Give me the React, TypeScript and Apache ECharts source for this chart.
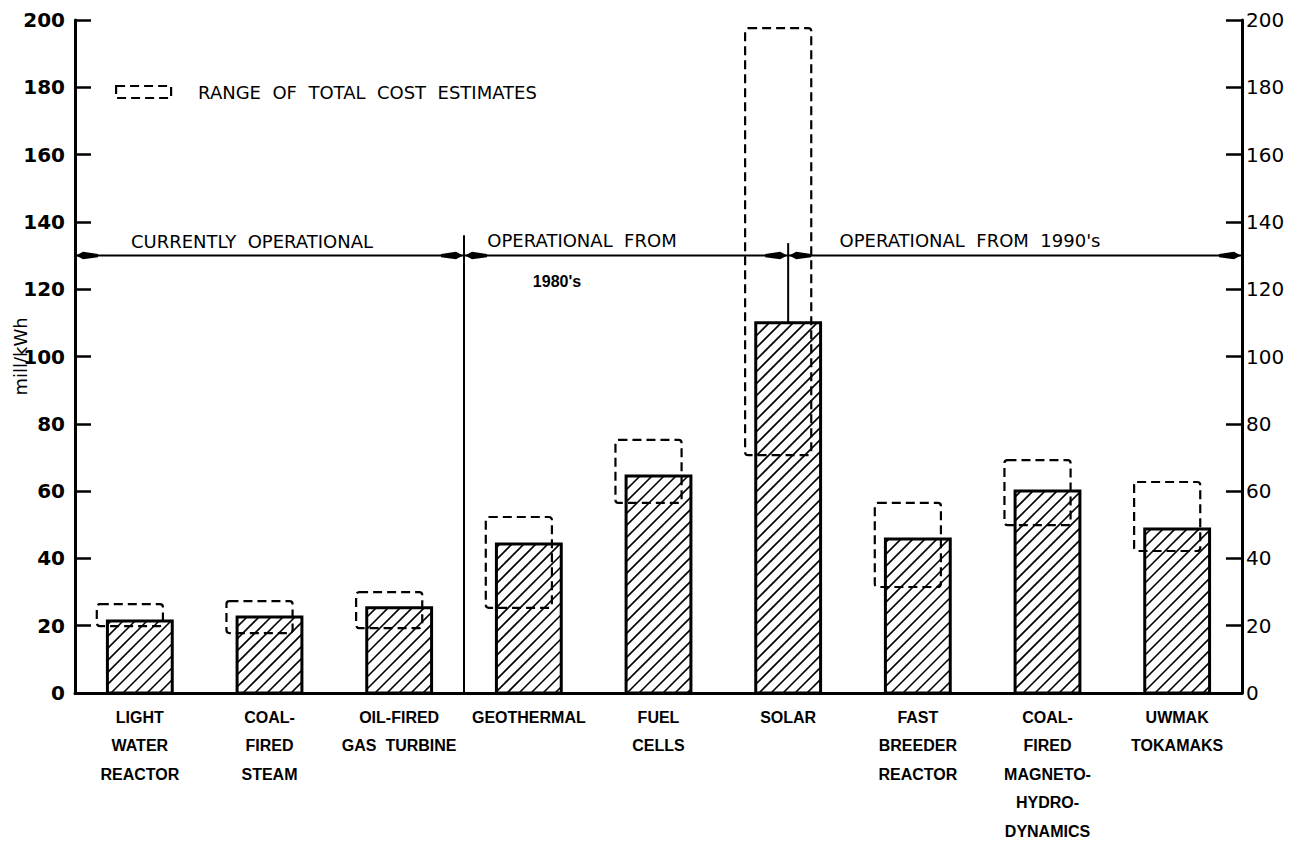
import React, { useEffect, useRef } from "react";
import * as echarts from "echarts";

// ---- data ----
const categories = [
  "LIGHT\nWATER\nREACTOR",
  "COAL-\nFIRED\nSTEAM",
  "OIL-FIRED\nGAS  TURBINE",
  "GEOTHERMAL",
  "FUEL\nCELLS",
  "SOLAR",
  "FAST\nBREEDER\nREACTOR",
  "COAL-\nFIRED\nMAGNETO-\nHYDRO-\nDYNAMICS",
  "UWMAK\nTOKAMAKS",
];
const costValues = [21.4, 22.6, 25.3, 44.3, 64.5, 110.0, 45.8, 60.0, 48.7];
const rangeLow = [19.9, 17.8, 19.3, 25.3, 56.5, 70.7, 31.5, 49.9, 42.2];
const rangeHigh = [26.4, 27.3, 30.0, 52.3, 75.2, 197.6, 56.5, 69.2, 62.7];

const yMin = 0;
const yMax = 200;
const yInterval = 20;

const rangeLegendName = "RANGE  OF  TOTAL  COST  ESTIMATES";
const periodLabels = ["CURRENTLY  OPERATIONAL", "OPERATIONAL  FROM", "1980's", "OPERATIONAL  FROM  1990's"];
const periodLevel = 130; // mill/kWh level of the period arrows
const currentlyOperationalCount = 3; // first three technologies
const solarIndex = 5;
const separatorTop = 136;
const solarLineTop = 133.7;

// ---- renderers ----
function renderBar(params: any, api: any) {
  const idx = api.value(0);
  const v = api.value(1);
  const top = api.coord([idx, v]);
  const base = api.coord([idx, 0]);
  const band = api.size([1, 0])[0];
  const w = band * 0.5;
  const x0 = top[0] - w / 2;
  const x1 = top[0] + w / 2;
  const y0 = top[1];
  const y1 = base[1];
  const children: any[] = [
    { type: "rect", shape: { x: x0, y: y0, width: w, height: y1 - y0 }, style: { fill: "#fff" } },
  ];
  const step = 12;
  for (let c = Math.ceil((x0 + y0) / step) * step; c < x1 + y1; c += step) {
    const xa = Math.max(x0, c - y1);
    const xb = Math.min(x1, c - y0);
    if (xb > xa + 0.5) {
      children.push({
        type: "line",
        shape: { x1: xa, y1: c - xa, x2: xb, y2: c - xb },
        style: { stroke: "#000", lineWidth: 1.6 },
      });
    }
  }
  children.push({
    type: "rect",
    shape: { x: x0, y: y0, width: w, height: y1 - y0 },
    style: { fill: "none", stroke: "#000", lineWidth: 3 },
  });
  return { type: "group", children };
}

function renderRange(params: any, api: any) {
  const idx = api.value(0);
  const lo = api.coord([idx, api.value(1)]);
  const hi = api.coord([idx, api.value(2)]);
  const band = api.size([1, 0])[0];
  const w = band * 0.51;
  const cx = hi[0] - band * 0.077;
  return {
    type: "rect",
    z2: 10,
    shape: { x: cx - w / 2, y: hi[1], width: w, height: lo[1] - hi[1], r: 3 },
    style: { fill: "none", stroke: "#000", lineWidth: 2.2, lineDash: [9, 5] },
  };
}

function arrow(tx: number, y: number, dir: number) {
  return {
    type: "polygon",
    shape: {
      points: [
        [tx, y],
        [tx - dir * 7, y - 3.8],
        [tx - dir * 22, y - 1.6],
        [tx - dir * 22, y + 1.6],
        [tx - dir * 7, y + 3.8],
      ],
    },
    style: { fill: "#000" },
  };
}

function renderPeriods(params: any, api: any) {
  const cs = params.coordSys;
  const band = api.size([1, 0])[0];
  const y = api.coord([0, periodLevel])[1];
  const yBase = api.coord([0, 0])[1];
  const left = cs.x;
  const right = cs.x + cs.width;
  const xb = left + band * currentlyOperationalCount;
  const xs = api.coord([solarIndex, 0])[0];
  const ln = { stroke: "#000", lineWidth: 2 };
  return {
    type: "group",
    children: [
      { type: "line", shape: { x1: left, y1: y, x2: right, y2: y }, style: ln },
      {
        type: "line",
        shape: { x1: xb, y1: api.coord([0, separatorTop])[1], x2: xb, y2: yBase },
        style: ln,
      },
      {
        type: "line",
        shape: {
          x1: xs,
          y1: api.coord([0, solarLineTop])[1],
          x2: xs,
          y2: api.coord([0, costValues[solarIndex]])[1],
        },
        style: ln,
      },
      arrow(left + 1, y, -1),
      arrow(xb - 1, y, 1),
      arrow(xb + 1, y, -1),
      arrow(xs - 1, y, 1),
      arrow(xs + 1, y, -1),
      arrow(right - 1, y, 1),
    ],
  };
}

function txt(text: string, x: number, y: number, font: string) {
  return {
    type: "text",
    x,
    y,
    z: 20,
    style: {
      text,
      fill: "#000",
      font,
      align: "center",
      verticalAlign: "middle",
      textAlign: "center",
      textVerticalAlign: "middle",
    },
  };
}

export default function App() {
  const ref = useRef<HTMLDivElement>(null);
  useEffect(() => {
    if (!ref.current) return;
    const chart = echarts.init(ref.current, undefined, { renderer: "svg" });
    const axisFont = "DejaVu Sans";
    const option: any = {
      animation: false,
      backgroundColor: "#fff",
      textStyle: { fontFamily: axisFont, color: "#000" },
      grid: { left: 75, right: 66, top: 20, bottom: 148, containLabel: false, outerBoundsMode: "none" },
      legend: {
        left: 110,
        top: 78,
        itemWidth: 55,
        itemHeight: 12,
        data: [
          {
            name: rangeLegendName,
            icon: "rect",
            itemStyle: {
              color: "rgba(0,0,0,0)",
              borderColor: "#000",
              borderWidth: 2.2,
              borderType: [9, 5],
            },
          },
        ],
        textStyle: {
          fontFamily: axisFont,
          fontSize: 18,
          color: "#000",
          padding: [0, 0, 0, 22],
        },
        selectedMode: false,
      },
      xAxis: {
        type: "category",
        data: categories,
        boundaryGap: true,
        axisLine: { show: true, lineStyle: { color: "#000", width: 3 } },
        axisTick: { show: false },
        splitLine: { show: false },
        axisLabel: {
          interval: 0,
          color: "#000",
          fontFamily: "Liberation Sans",
          fontWeight: "bold",
          fontSize: 16,
          lineHeight: 28.5,
          margin: 10,
        },
      },
      yAxis: [
        {
          type: "value",
          position: "left",
          min: yMin,
          max: yMax,
          interval: yInterval,
          name: "mill/kWh",
          nameLocation: "middle",
          nameRotate: 90,
          nameGap: 46,
          nameMoveOverlap: false,
          nameTextStyle: { fontFamily: axisFont, fontSize: 18, color: "#000", padding: [0, 0, 0, 0] },
          axisLine: { show: true, lineStyle: { color: "#000", width: 3 } },
          axisTick: { show: true, inside: true, length: 16, lineStyle: { color: "#000", width: 2.5 } },
          splitLine: { show: false },
          axisLabel: { color: "#000", fontFamily: axisFont, fontWeight: "bold", fontSize: 20, margin: 10 },
        },
        {
          type: "value",
          position: "right",
          min: yMin,
          max: yMax,
          interval: yInterval,
          axisLine: { show: true, lineStyle: { color: "#000", width: 3 } },
          axisTick: { show: true, inside: true, length: 16, lineStyle: { color: "#000", width: 2.5 } },
          splitLine: { show: false },
          axisLabel: { color: "#000", fontFamily: axisFont, fontSize: 20, margin: 4 },
        },
      ],
      series: [
        {
          name: "Total cost",
          type: "custom",
          renderItem: renderBar,
          encode: { x: 0, y: 1 },
          data: costValues.map((v, i) => [i, v]),
          z: 2,
        },
        {
          name: rangeLegendName,
          type: "custom",
          renderItem: renderRange,
          encode: { x: 0, y: [1, 2] },
          itemStyle: { color: "rgba(0,0,0,0)", borderColor: "#000", borderWidth: 2.2, borderType: [9, 5] },
          data: rangeLow.map((lo, i) => [i, lo, rangeHigh[i]]),
          z: 4,
        },
        {
          name: "Periods",
          type: "custom",
          renderItem: renderPeriods,
          encode: { x: 0, y: 1 },
          data: [[0, periodLevel]],
          z: 3,
          silent: true,
        },
      ],
      graphic: [
        txt(periodLabels[0], 252, 241, '18px "DejaVu Sans"'),
        txt(periodLabels[1], 582, 240, '18px "DejaVu Sans"'),
        txt(periodLabels[2], 557, 281, 'bold 16px "Liberation Sans"'),
        txt(periodLabels[3], 970, 240, '18px "DejaVu Sans"'),
      ],
    };
    chart.setOption(option);
    return () => chart.dispose();
  }, []);
  return (
    <div
      ref={ref}
      style={{ position: "fixed", left: 0, top: 0, width: 1308, height: 841, background: "#fff" }}
    />
  );
}
